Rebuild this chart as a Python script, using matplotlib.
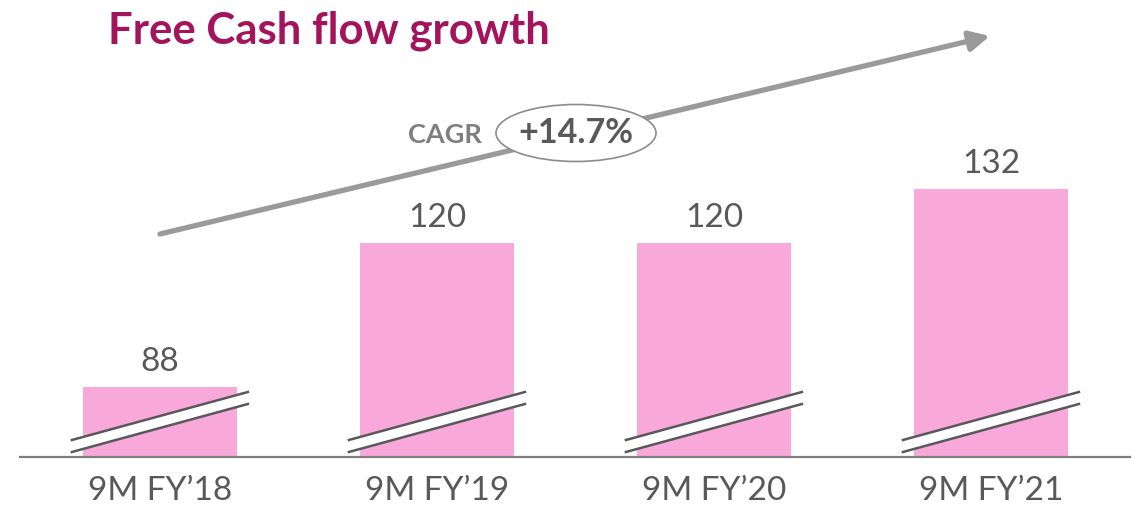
import matplotlib
matplotlib.use("Agg")
import matplotlib.pyplot as plt
from matplotlib.patches import Ellipse, Polygon
from matplotlib.transforms import ScaledTranslation

categories = ["9M FY\u201918", "9M FY\u201919", "9M FY\u201920", "9M FY\u201921"]
values = [88, 120, 120, 132]
title = "Free Cash flow growth"
cagr_label = "CAGR"
cagr_value = "+14.7%"

W, H, DPI = 1147, 506, 100
fig = plt.figure(figsize=(W / DPI, H / DPI), dpi=DPI)
FONT = ["Lato", "DejaVu Sans"]

BAR = "#F9A8DA"
TXT = "#595959"

# main axes: x from px 20 to 1130, y from baseline px 458 to top
ax = fig.add_axes([20 / W, (H - 458) / H, 1110 / W, 458 / H])
ax.set_xlim(-0.505, 3.502)
ax.set_ylim(72.4, 174.2)
xs = list(range(len(values)))
ax.bar(xs, values, width=0.556, color=BAR, zorder=2)
for s in ["top", "right", "left"]:
    ax.spines[s].set_visible(False)
ax.spines["bottom"].set_color("#7F7F7F")
ax.spines["bottom"].set_linewidth(1.6)
ax.set_yticks([])
ax.set_xticks(xs)
ax.set_xticklabels(categories, fontsize=24, color=TXT, family=FONT)
ax.tick_params(axis="x", length=0, pad=13)

for x, v in zip(xs, values):
    ax.annotate(str(v), (x, v), xytext=(0, 8), textcoords="offset points",
                ha="center", va="bottom", fontsize=24, color=TXT, family=FONT)

# break marks (pixel offsets relative to bar center on baseline)
px = 1 / DPI
pts_u = [(-88, 17), (88, 65)]
pts_l = [(-88, 5), (88, 53)]


def tpt(dx, dy):
    return ax.get_xaxis_transform() + ScaledTranslation(dx * px, dy * px, fig.dpi_scale_trans)


for x in xs:
    verts = [tpt(dx, dy).transform((x, 0))
             for (dx, dy) in [pts_u[0], pts_u[1], pts_l[1], pts_l[0]]]
    fig.add_artist(Polygon(verts, closed=True, transform=None, facecolor="white",
                           edgecolor="none", zorder=3))
    for pts in (pts_u, pts_l):
        a = tpt(*pts[0]).transform((x, 0))
        b = tpt(*pts[1]).transform((x, 0))
        fig.add_artist(plt.Line2D([a[0], b[0]], [a[1], b[1]], transform=None,
                                  color="#595959", lw=1.8, zorder=4))

# overlay axes in pixel coordinates for decorations
ov = fig.add_axes([0, 0, 1, 1], facecolor="none")
ov.set_xlim(0, W)
ov.set_ylim(H, 0)
ov.axis("off")

ov.text(108, 31, title, fontsize=31.5, fontweight="bold", color="#A3145C",
        ha="left", va="center", family=FONT)

ov.annotate("", xy=(990, 37), xytext=(160, 235),
            arrowprops=dict(arrowstyle="-|>,head_length=1.2,head_width=0.6",
                            color="#9A9A9A", lw=3.8, shrinkA=0, shrinkB=0))

ov.add_patch(Ellipse((576, 134), 160, 57, facecolor="white", edgecolor="#8C8C8C",
                     lw=1.2, zorder=5))
ov.text(576, 133, cagr_value, fontsize=24.5, fontweight="bold", color=TXT,
        ha="center", va="center", family=FONT, zorder=6)
ov.text(445, 135, cagr_label, fontsize=19.5, fontweight="bold", color="#7F7F7F",
        ha="center", va="center", family=FONT, zorder=6)

fig.savefig("out.png", dpi=DPI)
